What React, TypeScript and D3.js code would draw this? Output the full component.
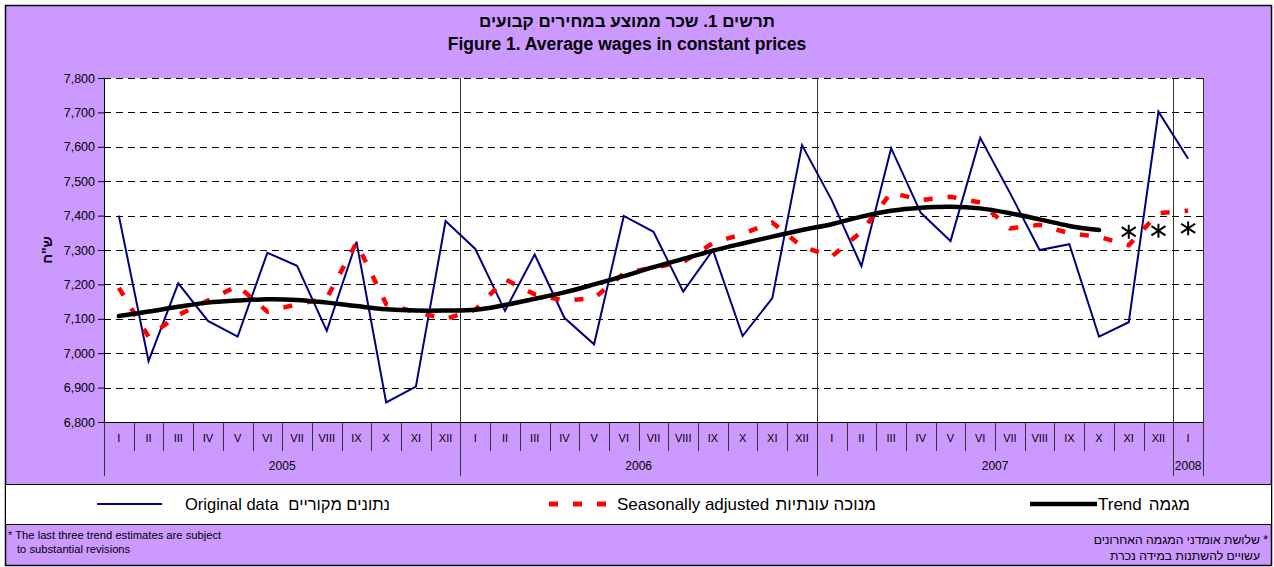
import { useEffect, useMemo, useRef } from "react";
import * as d3 from "d3";

const WIDTH = 1274;
const HEIGHT = 567;
const PLOT = { left: 104, right: 1203, top: 78, bottom: 422 };
const FONT = "'Liberation Sans', Arial, sans-serif";

const MONTHS = ["I", "II", "III", "IV", "V", "VI", "VII", "VIII", "IX", "X", "XI", "XII"];
const YEARS = [
  { label: "2005", months: 12 },
  { label: "2006", months: 12 },
  { label: "2007", months: 12 },
  { label: "2008", months: 1 },
];

// Jan 2005 .. Jan 2008
const original = [
  7400, 6977, 7203, 7094, 7048, 7292, 7254, 7065, 7324, 6857, 6903, 7384,
  7303, 7123, 7287, 7103, 7026, 7399, 7353, 7179, 7300, 7050, 7160, 7605,
  7445, 7253, 7596, 7408, 7326, 7626, 7466, 7300, 7317, 7048, 7090, 7702,
  7565,
];
const seasonal = [
  7190, 7048, 7111, 7153, 7196, 7121, 7142, 7160, 7321, 7143, 7119, 7100,
  7126, 7215, 7171, 7153, 7160, 7232, 7249, 7265, 7320, 7347, 7380, 7310,
  7281, 7353, 7467, 7445, 7455, 7438, 7363, 7373, 7349, 7338, 7314, 7407,
  7414,
];
// trend line Jan 2005 .. Oct 2007, last three estimates shown as stars
const trend = [
  7108, 7121, 7135, 7147, 7153, 7157, 7155, 7147, 7137, 7128, 7124, 7124,
  7126, 7140, 7158, 7177, 7200, 7224, 7250, 7274, 7298, 7319, 7339, 7358,
  7375, 7397, 7414, 7423, 7426, 7421, 7407, 7389, 7370, 7358,
];
const trendStars = [7353, 7356, 7363];

const Y_DOMAIN: [number, number] = [6800, 7800];

const Star = ({ cx, cy }: { cx: number; cy: number }) => {
  const r = 7;
  const dx = 7;
  const dy = 4.6;
  return (
    <g stroke="#000" strokeWidth={2} fill="none">
      <line x1={cx} y1={cy - r} x2={cx} y2={cy + r} />
      <line x1={cx - dx} y1={cy - dy} x2={cx + dx} y2={cy + dy} />
      <line x1={cx - dx} y1={cy + dy} x2={cx + dx} y2={cy - dy} />
    </g>
  );
};

export default function App() {
  const axisRef = useRef<SVGGElement>(null);
  const n = original.length;

  const xScale = useMemo(
    () => d3.scaleBand<number>().domain(d3.range(n)).range([PLOT.left, PLOT.right]).padding(0),
    [n]
  );
  const yScale = useMemo(
    () => d3.scaleLinear().domain(Y_DOMAIN).range([PLOT.bottom, PLOT.top]),
    []
  );
  const cx = (i: number) => (xScale(i) as number) + xScale.bandwidth() / 2;

  useEffect(() => {
    const g = d3.select(axisRef.current);
    g.selectAll("*").remove();
    const axis = d3
      .axisLeft(yScale)
      .ticks(10)
      .tickSize(6)
      .tickSizeOuter(0)
      .tickPadding(3)
      .tickFormat((d) => d3.format(",")(d as number));
    g.attr("transform", `translate(${PLOT.left},0)`).call(axis);
    g.select(".domain").attr("stroke", "#000");
    g.selectAll(".tick line").attr("stroke", "#000");
    g.selectAll(".tick text")
      .attr("font-family", FONT)
      .attr("font-size", 12.5)
      .attr("fill", "#000");
  }, [yScale]);

  const lineOrig = d3
    .line<number>()
    .x((_, i) => cx(i))
    .y((d) => yScale(d));
  const lineTrend = d3
    .line<number>()
    .x((_, i) => cx(i))
    .y((d) => yScale(d))
    .curve(d3.curveCatmullRom.alpha(0.5));

  const grid = yScale.ticks(10).filter((t) => t > Y_DOMAIN[0]);

  // year boundaries
  let acc = 0;
  const yearSpans = YEARS.map((y) => {
    const start = acc;
    acc += y.months;
    return { ...y, start, end: acc };
  });
  const edge = (i: number) =>
    i >= n ? PLOT.right : (xScale(i) as number);

  return (
    <svg
      width={WIDTH}
      height={HEIGHT}
      style={{ position: "absolute", left: 0, top: 0, background: "#fff" }}
      fontFamily={FONT}
    >
      <rect x={5.5} y={5.5} width={1266} height={560} fill="#CC99FF" stroke="#000" strokeWidth={1.5} />

      <text x={627} y={27} textAnchor="middle" fontSize={17} fontWeight="bold">
        תרשים 1. שכר ממוצע במחירים קבועים
      </text>
      <text x={627} y={50} textAnchor="middle" fontSize={17.5} fontWeight="bold">
        Figure 1. Average wages in constant prices
      </text>

      {/* plot area */}
      <rect x={PLOT.left} y={PLOT.top} width={PLOT.right - PLOT.left} height={PLOT.bottom - PLOT.top} fill="#fff" />
      {grid.map((t) => (
        <line
          key={t}
          x1={PLOT.left}
          x2={PLOT.right}
          y1={Math.round(yScale(t)) + 0.5}
          y2={Math.round(yScale(t)) + 0.5}
          stroke="#000"
          strokeDasharray="7,5"
        />
      ))}

      {/* category ticks and year separators */}
      {d3.range(n + 1).map((i) => {
        const isYear = yearSpans.some((s) => s.start === i) || i === n;
        const x = Math.round(edge(i)) + 0.5;
        return (
          <line
            key={i}
            x1={x}
            x2={x}
            y1={isYear ? PLOT.top : PLOT.bottom}
            y2={isYear ? 476 : 451}
            stroke="#333"
            strokeWidth={1}
          />
        );
      })}
      <line x1={PLOT.left} x2={PLOT.right} y1={PLOT.bottom + 0.5} y2={PLOT.bottom + 0.5} stroke="#000" />

      {original.map((_, i) => (
        <text key={i} x={cx(i)} y={442} textAnchor="middle" fontSize={11}>
          {MONTHS[i % 12]}
        </text>
      ))}
      {yearSpans.map((s) => (
        <text
          key={s.label}
          x={(edge(s.start) + edge(s.end)) / 2}
          y={470}
          textAnchor="middle"
          fontSize={12}
        >
          {s.label}
        </text>
      ))}

      <g ref={axisRef} />
      <text
        transform="translate(52,250) rotate(-90)"
        textAnchor="middle"
        fontSize={14}
        fontWeight="bold"
      >
        ש"ח
      </text>

      {/* series */}
      <path d={lineOrig(original) ?? ""} fill="none" stroke="#000080" strokeWidth={2} />
      <path
        d={lineOrig(seasonal) ?? ""}
        fill="none"
        stroke="#FF0000"
        strokeWidth={4.5}
        strokeDasharray="9,15"
      />
      <path d={lineTrend(trend) ?? ""} fill="none" stroke="#000" strokeWidth={4.5} strokeLinecap="round" />
      {trendStars.map((v, k) => (
        <Star key={k} cx={cx(trend.length + k)} cy={yScale(v)} />
      ))}

      {/* legend */}
      <rect x={5.5} y={484.5} width={1266} height={40} fill="#fff" stroke="#000" />
      <line x1={97} x2={162} y1={504} y2={504} stroke="#000080" strokeWidth={2} />
      <text x={185} y={510} fontSize={16.5}>Original data</text>
      <text x={390} y={510} fontSize={16.5} textAnchor="end">נתונים מקוריים</text>
      <line x1={549} x2={610} y1={504} y2={504} stroke="#FF0000" strokeWidth={5} strokeDasharray="9,15" />
      <text x={617} y={510} fontSize={17}>Seasonally adjusted</text>
      <text x={876} y={510} fontSize={17} textAnchor="end">מנוכה עונתיות</text>
      <line x1={1030} x2={1097} y1={504} y2={504} stroke="#000" strokeWidth={4.5} />
      <text x={1098} y={510} fontSize={17}>Trend</text>
      <text x={1190} y={510} fontSize={17} textAnchor="end">מגמה</text>

      {/* footnotes */}
      <text x={8} y={539} fontSize={11.2}>* The last three trend estimates are subject</text>
      <text x={17} y={553} fontSize={11.2}>to substantial revisions</text>
      <text x={1268} y={544} fontSize={12.2} textAnchor="end">שלושת אומדני המגמה האחרונים *</text>
      <text x={1260} y={560} fontSize={12.2} textAnchor="end">עשויים להשתנות במידה נכרת</text>
    </svg>
  );
}
